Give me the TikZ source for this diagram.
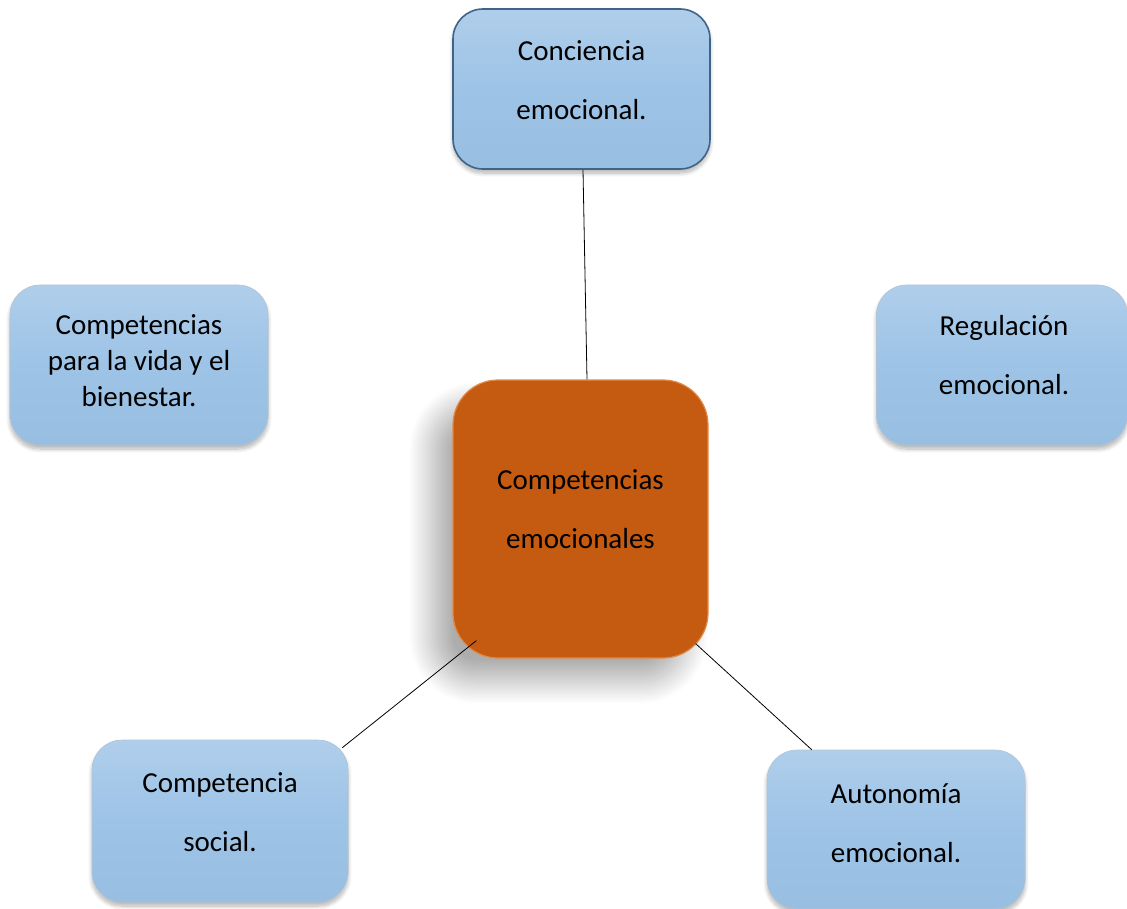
\documentclass[tikz,border=0pt]{standalone}
\usepackage{fontspec}
\setmainfont{Carlito}
\usetikzlibrary{shadows.blur,calc}
\definecolor{boxblue}{HTML}{9DC3E6}
\definecolor{boxbluelight}{HTML}{AFCEEB}
\definecolor{boxbluedark}{HTML}{98BEE2}
\definecolor{edgeblue}{HTML}{3F6488}
\definecolor{compor}{HTML}{C55A11}
\definecolor{compedge}{HTML}{E08A4A}
\tikzset{
  bluebox/.style={rectangle, rounded corners=30pt, top color=boxbluelight, bottom color=boxbluedark,
    middle color=boxblue, draw=boxblue!80!black!60, line width=0.6pt,
    blur shadow={shadow xshift=0pt, shadow yshift=-4pt, shadow blur radius=4pt, shadow blur steps=10, shadow opacity=30}},
  centerbox/.style={rectangle, rounded corners=45pt, fill=compor, draw=compedge, line width=1.2pt,
    blur shadow={shadow xshift=-22pt, shadow yshift=-24pt, shadow blur radius=22pt, shadow blur steps=40, shadow opacity=32}},
  dbl/.style={align=center, font=\fontsize{29}{59}\selectfont, text=black},
  sgl/.style={align=center, font=\fontsize{29}{36}\selectfont, text=black},
  conn/.style={draw=black, line width=0.8pt}
}
\begin{document}
\begin{tikzpicture}[x=1pt,y=-1pt]
\useasboundingbox (0,0) rectangle (1127,909);
% boxes
\node[bluebox, draw=edgeblue, line width=1.6pt, minimum width=257pt, minimum height=160pt,
  label={[dbl, yshift=9pt]center:Conciencia\\emocional.}] (top) at (581.5,89) {};
\node[bluebox, minimum width=258pt, minimum height=160pt,
  label={[sgl, yshift=4pt]center:Competencias\\para la vida y el\\bienestar.}] (left) at (139,365) {};
\node[bluebox, minimum width=251pt, minimum height=160pt,
  label={[dbl, yshift=10pt, xshift=2pt]center:Regulación\\emocional.}] (right) at (1002,365) {};
\node[centerbox, minimum width=255pt, minimum height=278pt,
  label={[dbl, yshift=10pt]center:Competencias\\emocionales}] (c) at (580.5,519) {};
\node[bluebox, minimum width=256pt, minimum height=162pt,
  label={[dbl, yshift=9pt]center:Competencia\\social.}] (bl) at (220,821) {};
\node[bluebox, minimum width=258pt, minimum height=159pt,
  label={[dbl, yshift=6pt]center:Autonomía\\emocional.}] (br) at (896,829.5) {};
% connectors
\draw[conn] ([xshift=1.5pt]top.south) -- ([xshift=6.5pt]c.north);
\draw[conn] ([shift={(24,-18)}]c.south west) -- ([shift={(-6,8)}]bl.north east);
\draw[conn] ([shift={(-13,-15)}]c.south east) -- ([shift={(45,0)}]br.north west);
\end{tikzpicture}
\end{document}
